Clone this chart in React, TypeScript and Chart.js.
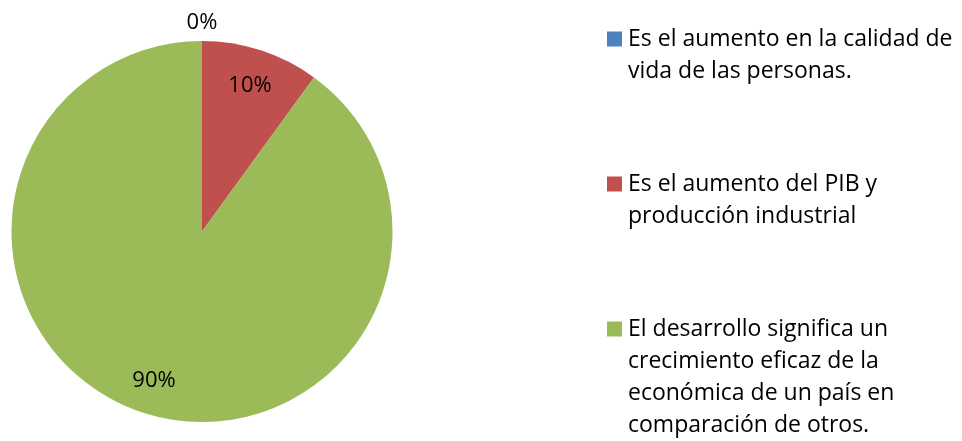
import React, { useEffect, useRef } from "react";
import { Chart, registerables } from "chart.js";

Chart.register(...registerables);

const categories: string[][] = [
  ["Es el aumento en la calidad de", "vida de las personas."],
  ["Es el aumento del PIB y", "producción industrial"],
  ["El desarrollo significa un", "crecimiento eficaz de la", "económica de un país en", "comparación de otros."],
];
const values: number[] = [0, 10, 90];
const colors: string[] = ["#4F81BD", "#C0504D", "#9BBB59"];

const LEGEND_FONT = "23px 'Open Sans', Lato, sans-serif";
const LABEL_FONT = "22px 'Open Sans', Lato, sans-serif";

const labelPlugin = {
  id: "pieLabels",
  afterDatasetsDraw(chart: any) {
    const ctx = chart.ctx;
    const meta = chart.getDatasetMeta(0);
    const total = values.reduce((a, b) => a + b, 0);
    ctx.save();
    ctx.font = LABEL_FONT;
    ctx.fillStyle = "#000";
    ctx.textAlign = "center";
    ctx.textBaseline = "alphabetic";
    meta.data.forEach((arc: any, i: number) => {
      const { x, y, startAngle, endAngle, outerRadius } = arc.getProps(
        ["x", "y", "startAngle", "endAngle", "outerRadius"],
        true
      );
      const mid = (startAngle + endAngle) / 2;
      const pct = Math.round((values[i] / total) * 100);
      const r = values[i] === 0 ? outerRadius + 20 : outerRadius * 0.815;
      ctx.fillText(pct + "%", x + Math.cos(mid) * r, y + Math.sin(mid) * r + 8);
    });
    ctx.restore();
  },
};

const legendPlugin = {
  id: "sideLegend",
  afterDraw(chart: any) {
    const ctx = chart.ctx;
    ctx.save();
    ctx.font = LEGEND_FONT;
    ctx.textAlign = "left";
    ctx.textBaseline = "alphabetic";
    const firstBaselines = [46, 191, 336];
    categories.forEach((lines, i) => {
      const b = firstBaselines[i];
      ctx.fillStyle = colors[i];
      ctx.fillRect(607, b - 14.5, 15, 15);
      ctx.fillStyle = "#000";
      lines.forEach((line, j) => {
        ctx.fillText(line, 628, b + j * 32);
      });
    });
    ctx.restore();
  },
};

export default function App() {
  const ref = useRef<HTMLCanvasElement>(null);
  useEffect(() => {
    document.body.style.margin = "0";
    const chart = new Chart(ref.current!, {
      type: "pie",
      data: {
        labels: categories.map((l) => l.join(" ")),
        datasets: [
          {
            data: values,
            backgroundColor: colors,
            borderWidth: 0,
          },
        ],
      },
      options: {
        animation: false,
        responsive: false,
        layout: { padding: { left: 11.5, right: 569.5, top: 41, bottom: 19 } },
        plugins: { legend: { display: false }, tooltip: { enabled: false } },
      },
      plugins: [labelPlugin, legendPlugin],
    });
    return () => chart.destroy();
  }, []);
  return (
    <div style={{ width: 962, height: 441, background: "#fff" }}>
      <canvas ref={ref} width={962} height={441} />
    </div>
  );
}
